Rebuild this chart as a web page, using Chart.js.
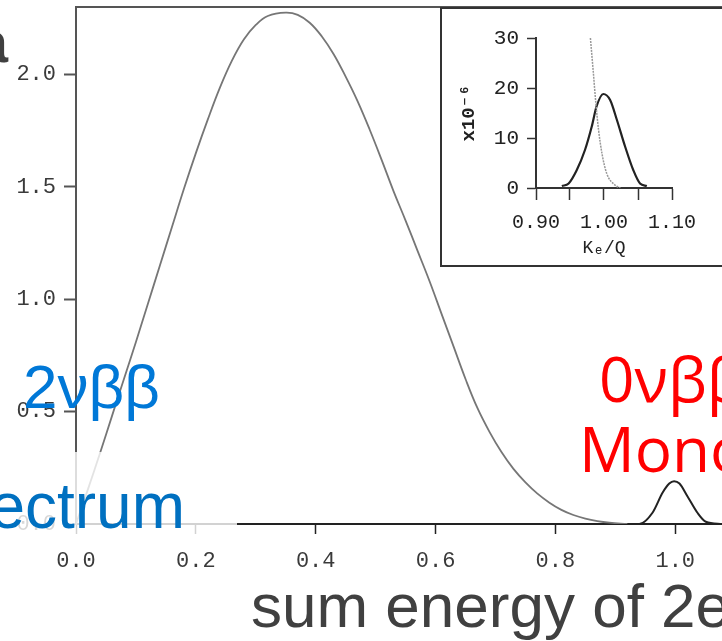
<!DOCTYPE html>
<html>
<head>
<meta charset="utf-8">
<script src="https://cdn.jsdelivr.net/npm/chart.js@4.4.0/dist/chart.umd.min.js"></script>
<style>
body { margin: 0; background: #fff; }
#wrap { position: relative; width: 722px; height: 641px; overflow: hidden; }
#main { position: absolute; left: 0; top: 0; }
#insetBox { position: absolute; left: 440px; top: 7px; width: 300px; height: 256px; border: 2px solid #333; background: #fff; }
#inset { display: block; }
</style>
</head>
<body>
<div id="wrap">
  <canvas id="main" width="722" height="641"></canvas>
  <div id="insetBox"><canvas id="inset" width="300" height="256"></canvas></div>
</div>
<script>
// 2vbb summed electron energy spectrum (K/Q)
const specE = [0, 0.02, 0.04, 0.06, 0.08, 0.10, 0.12, 0.14, 0.16, 0.18, 0.20, 0.22, 0.24, 0.26, 0.28, 0.30,
  0.32, 0.35, 0.37, 0.39, 0.41, 0.43, 0.45, 0.47, 0.49, 0.51, 0.53, 0.55, 0.57, 0.59, 0.61, 0.63, 0.65,
  0.67, 0.69, 0.71, 0.73, 0.75, 0.77, 0.79, 0.81, 0.83, 0.85, 0.87, 0.89, 0.92];
const specN = [0, 0.155, 0.315, 0.48, 0.645, 0.81, 0.98, 1.15, 1.32, 1.49, 1.65, 1.80, 1.94, 2.06, 2.155, 2.22,
  2.26, 2.275, 2.265, 2.23, 2.17, 2.09, 1.99, 1.88, 1.755, 1.62, 1.48, 1.35, 1.215, 1.08, 0.935, 0.79, 0.645,
  0.515, 0.41, 0.32, 0.245, 0.185, 0.135, 0.095, 0.063, 0.04, 0.024, 0.013, 0.006, 0];

// 0vbb mono-energetic line at K/Q = 1
const peakE = [0.885, 0.94, 0.962, 0.979, 0.99, 0.998, 1.007, 1.02, 1.037, 1.051, 1.078];
const peakN = [0, 0, 0.05, 0.14, 0.18, 0.19, 0.18, 0.125, 0.05, 0.01, 0];

// inset: zoom around the endpoint (x10^-6)
const zoomE = [0.938, 0.948, 0.96, 0.972, 0.982, 0.989, 0.999, 1.009, 1.019, 1.031, 1.043, 1.053, 1.063];
const zoomN = [0.4, 0.9, 3.6, 7.6, 12.3, 16.3, 18.8, 17.6, 13.6, 8.3, 3.6, 0.9, 0.4];
const tailE = [0.98, 0.984, 0.988, 0.992, 0.997, 1.004, 1.016, 1.024];
const tailN = [30, 23.6, 17, 11.6, 6.9, 2.9, 0.6, 0];

// ticks
const xTicks = [0, 0.2, 0.4, 0.6, 0.8, 1.0];
const xLabels = ['0.0', '0.2', '0.4', '0.6', '0.8', '1.0'];
const yTicks = [0, 0.5, 1.0, 1.5, 2.0];
const yLabels = ['0.0', '0.5', '1.0', '1.5', '2.0'];
const inXTicks = [0.90, 0.95, 1.00, 1.05, 1.10];
const inXLabels = ['0.90', '', '1.00', '', '1.10'];
const inYTicks = [0, 5, 10, 15, 20, 25, 30];
const inYLabels = ['0', '', '10', '', '20', '', '30'];

const pts = (xs, ys) => xs.map((x, i) => ({x: x, y: ys[i]}));
const mono = 'Liberation Mono, DejaVu Sans Mono, monospace';
const noPad = s => { s.paddingTop = 0; s.paddingBottom = 0; s.paddingLeft = 0; s.paddingRight = 0; };

const overlay = {
  id: 'overlay',
  afterDatasetsDraw(chart) {
    const c = chart.ctx;
    c.save();
    c.fillStyle = 'rgba(255,255,255,0.8)';
    c.fillRect(0, 452, 237, 90);
    c.restore();
  },
  afterDraw(chart) {
    const c = chart.ctx;
    const a = chart.chartArea;
    c.save();
    c.strokeStyle = '#555';
    c.lineWidth = 2;
    c.beginPath();
    c.moveTo(a.left, a.top);
    c.lineTo(a.right, a.top);
    c.stroke();

    c.textBaseline = 'alphabetic';
    c.fillStyle = '#404040';
    c.textAlign = 'right';
    c.font = 'bold 58px Liberation Sans';
    c.fillText('a', 8, 62);

    c.textAlign = 'left';
    c.fillStyle = '#0078D7';
    c.font = '62px Liberation Sans';
    c.fillText('2νββ', 23, 408);

    c.textAlign = 'right';
    c.fillStyle = '#0070C0';
    c.font = '64px Liberation Sans';
    c.fillText('ectrum', 185, 528);

    c.textAlign = 'left';
    c.fillStyle = '#FF0000';
    c.font = '62px Open Sans';
    c.fillText('0νββ', 599, 402);
    c.fillText('Mono', 579, 472);

    c.fillStyle = '#404040';
    c.font = '62px Liberation Sans';
    c.fillText('sum energy of 2e', 251, 627);
    c.restore();
  }
};

new Chart(document.getElementById('main'), {
  type: 'scatter',
  data: {
    datasets: [{
      data: pts(specE, specN),
      showLine: true,
      borderColor: '#767676',
      borderWidth: 1.8,
      pointRadius: 0,
      tension: 0.4
    }, {
      data: pts(peakE, peakN),
      showLine: true,
      borderColor: '#222',
      borderWidth: 2,
      pointRadius: 0,
      cubicInterpolationMode: 'monotone'
    }]
  },
  options: {
    responsive: false,
    animation: false,
    layout: { padding: { top: 7, right: 0, left: 0, bottom: 0 } },
    plugins: { legend: { display: false }, tooltip: { enabled: false } },
    scales: {
      x: {
        type: 'linear', min: 0, max: 1.078,
        afterBuildTicks: s => { s.ticks = xTicks.map(v => ({value: v})); },
        afterFit: s => { s.height = 117; noPad(s); },
        grid: { drawOnChartArea: false, tickLength: 10, color: '#222', tickWidth: 1.5 },
        border: { color: '#222', width: 2 },
        ticks: { font: { family: mono, size: 22 }, color: '#3a3a3a', padding: 14, maxRotation: 0, autoSkip: false,
          callback: (v, i) => xLabels[i] }
      },
      y: {
        min: 0, max: 2.3,
        afterBuildTicks: s => { s.ticks = yTicks.map(v => ({value: v})); },
        afterFit: s => { s.width = 76; noPad(s); },
        grid: { drawOnChartArea: false, tickLength: 12, color: '#555', tickWidth: 2 },
        border: { color: '#555', width: 2 },
        ticks: { font: { family: mono, size: 22 }, color: '#3a3a3a', padding: 8,
          callback: (v, i) => yLabels[i] }
      }
    }
  },
  plugins: [overlay]
});

new Chart(document.getElementById('inset'), {
  type: 'scatter',
  data: {
    datasets: [{
      data: pts(tailE, tailN),
      showLine: true,
      borderColor: '#999',
      borderWidth: 1.5,
      borderDash: [2, 1],
      pointRadius: 0,
      cubicInterpolationMode: 'monotone'
    }, {
      data: pts(zoomE, zoomN),
      showLine: true,
      borderColor: '#222',
      borderWidth: 2.2,
      pointRadius: 0,
      cubicInterpolationMode: 'monotone'
    }]
  },
  options: {
    responsive: false,
    animation: false,
    layout: { padding: { top: 29, right: 70, left: 0, bottom: 0 } },
    plugins: { legend: { display: false }, tooltip: { enabled: false } },
    scales: {
      x: {
        type: 'linear', min: 0.9, max: 1.1,
        afterBuildTicks: s => { s.ticks = inXTicks.map(v => ({value: v})); },
        afterFit: s => { s.height = 77; noPad(s); },
        grid: { drawOnChartArea: false, tickLength: 12, color: '#333', tickWidth: 1.5 },
        border: { color: '#333', width: 2 },
        ticks: { font: { family: mono, size: 20 }, color: '#222', padding: 11, maxRotation: 0, autoSkip: false,
          callback: (v, i) => inXLabels[i] },
        title: { display: true, text: 'Kₑ/Q', font: { family: mono, size: 18 }, color: '#222', padding: { bottom: 6 } }
      },
      y: {
        min: 0, max: 30,
        afterBuildTicks: s => { s.ticks = inYTicks.map(v => ({value: v})); },
        afterFit: s => { s.width = 94; noPad(s); },
        grid: { drawOnChartArea: false, tickLength: 9, color: '#333', tickWidth: 1.5 },
        border: { color: '#333', width: 2 },
        ticks: { font: { family: mono, size: 21 }, color: '#222', padding: 8,
          callback: (v, i) => inYLabels[i] },
        title: { display: true, text: 'x10⁻⁶', font: { family: mono, size: 19, weight: 'bold' }, color: '#222', padding: { top: 16 } }
      }
    }
  }
});
</script>
</body>
</html>
